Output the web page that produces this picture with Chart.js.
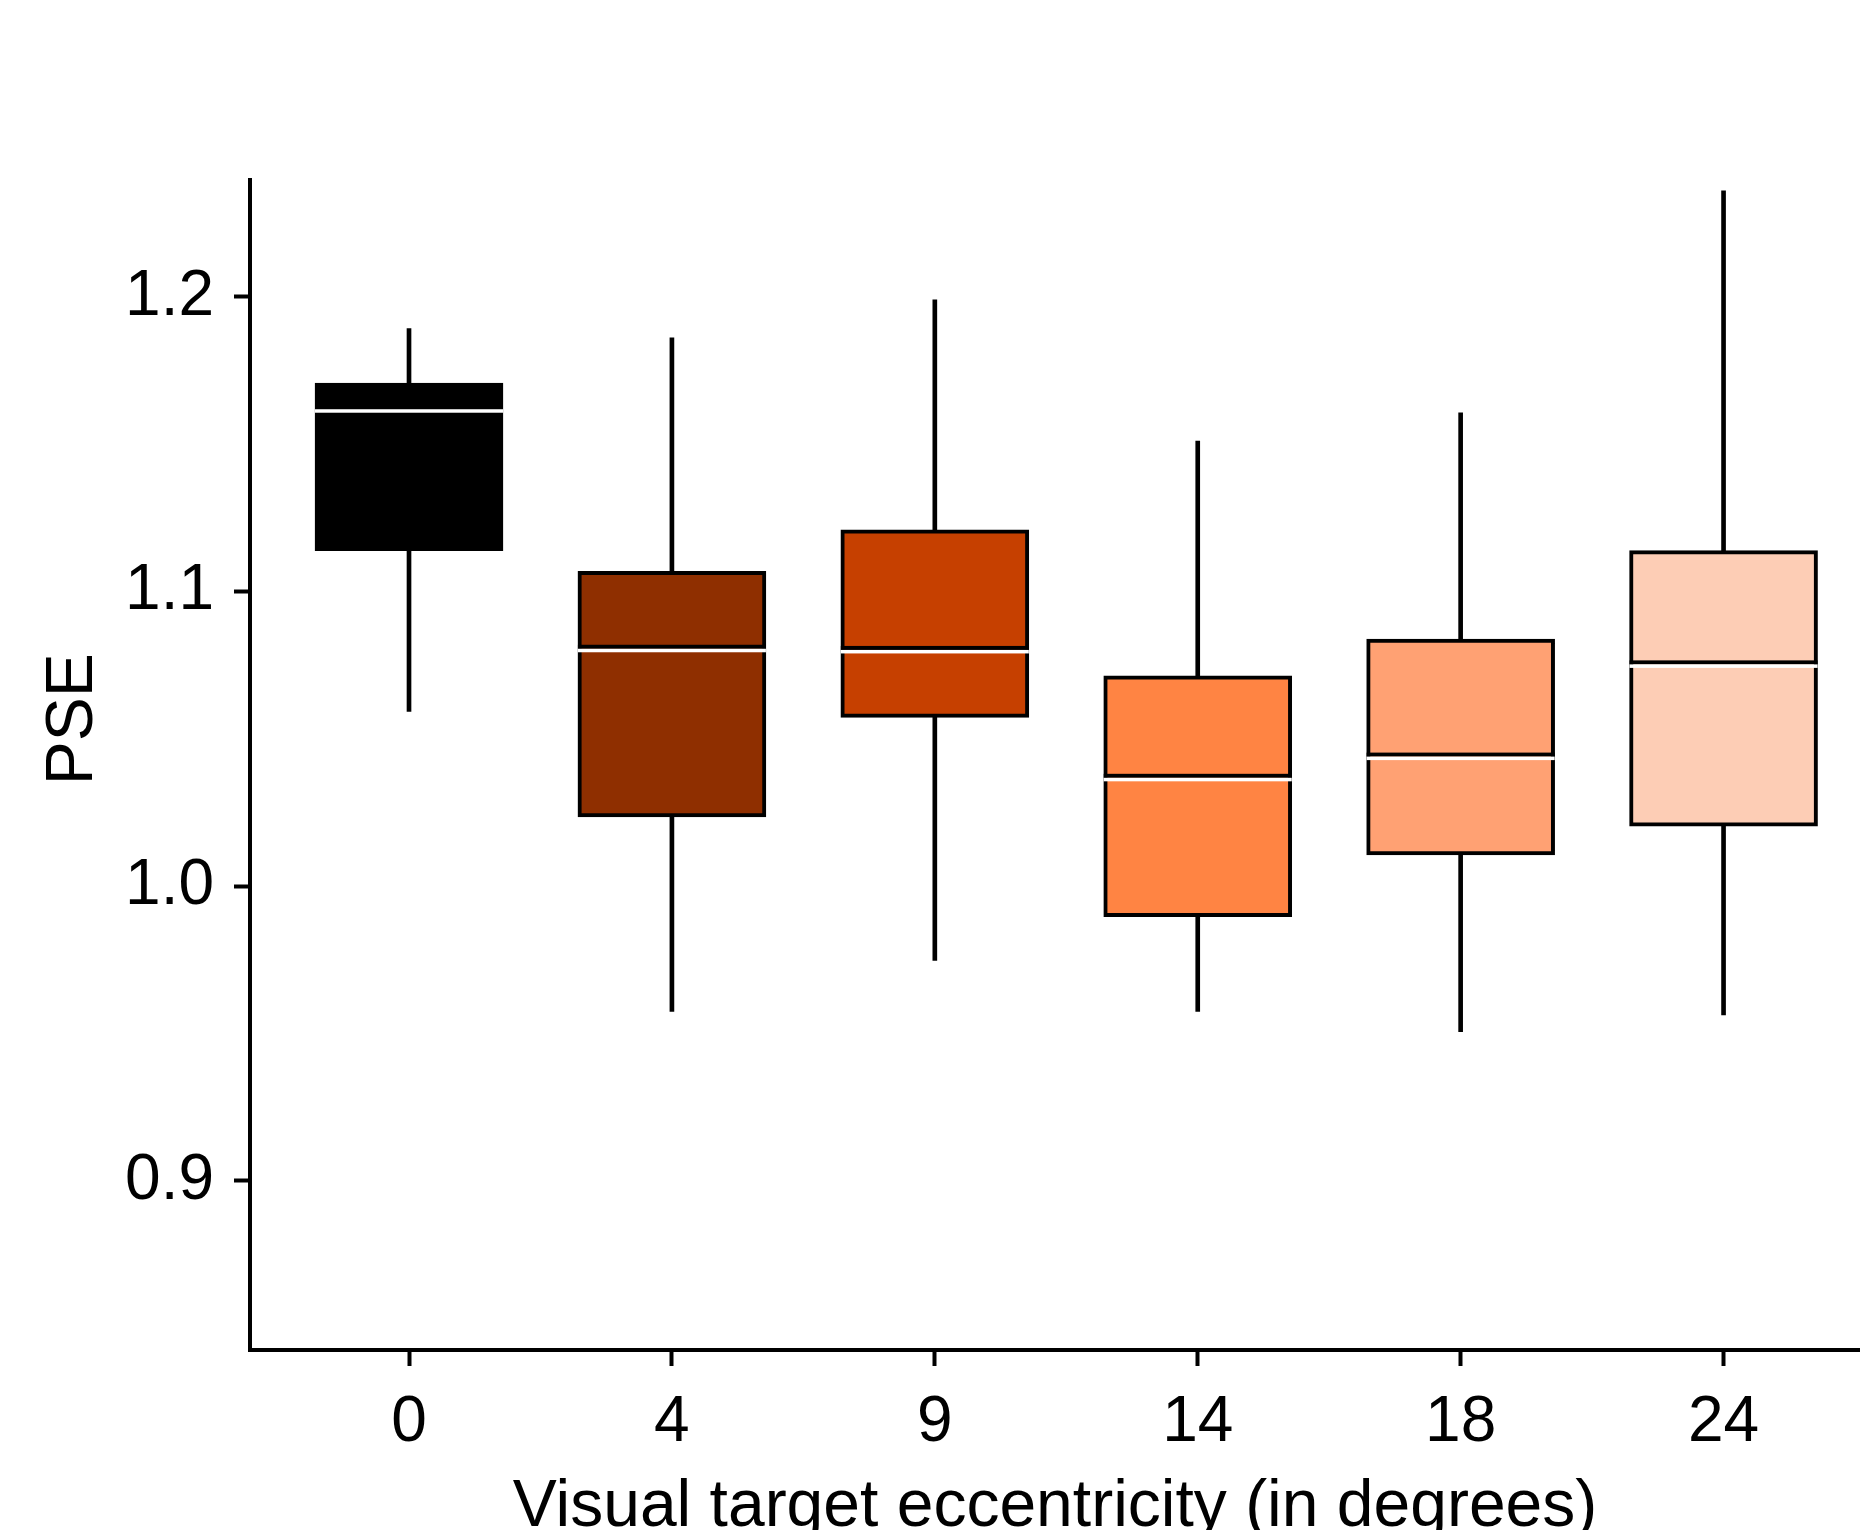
<!DOCTYPE html>
<html><head><meta charset="utf-8">
<script src="https://cdn.jsdelivr.net/npm/chart.js@4.4.1/dist/chart.umd.min.js"></script>
<style>html,body{margin:0;padding:0;background:#fff;} canvas{display:block;}</style>
</head><body>
<canvas id="c" width="1860" height="1530"></canvas>
<script>
const categories = ['0', '4', '9', '14', '18', '24'];
const whiskerLow  = [1.0593, 0.9575, 0.9748, 0.9575, 0.9506, 0.9563];
const q1          = [1.1139, 1.0235, 1.0573, 0.9897, 1.0106, 1.0204];
const medians     = [1.1619, 1.0806, 1.0802, 1.0368, 1.0440, 1.0753];
const q3          = [1.1708, 1.1069, 1.1210, 1.0714, 1.0839, 1.1139];
const whiskerHigh = [1.1893, 1.1861, 1.1990, 1.1511, 1.1607, 1.2360];
const boxColors   = ['#000000', '#8f2f00', '#c64000', '#ff8443', '#ffa173', '#fdcdb5'];
const yTicks = [0.9, 1.0, 1.1, 1.2];
const xTitle = 'Visual target eccentricity (in degrees)';
const yTitle = 'PSE';

const FONT = '"Liberation Sans", Arial, sans-serif';

const medianPlugin = {
  id: 'medians',
  afterDatasetsDraw(chart) {
    const {ctx, scales: {x, y}} = chart;
    const meta = chart.getDatasetMeta(0);
    ctx.save();
    medians.forEach((m, i) => {
      const bar = meta.data[i];
      const half = bar.width / 2;
      const cx = x.getPixelForValue(i);
      const py = y.getPixelForValue(m);
      ctx.fillStyle = '#000';
      ctx.fillRect(cx - half, py - 4, 2 * half, 4);
      ctx.fillStyle = '#fff';
      ctx.fillRect(cx - half, py, 2 * half, 3.5);
    });
    ctx.restore();
  }
};

new Chart(document.getElementById('c'), {
  type: 'bar',
  data: {
    datasets: [
      {
        label: 'box',
        data: categories.map((c, i) => ({x: i, y: [q1[i], q3[i]]})),
        backgroundColor: boxColors,
        borderColor: '#000',
        borderWidth: 4,
        borderSkipped: false,
        barThickness: 188,
        grouped: false,
        order: 1
      },
      {
        label: 'whisker',
        data: categories.map((c, i) => ({x: i, y: [whiskerLow[i], whiskerHigh[i]]})),
        backgroundColor: '#000',
        borderWidth: 0,
        barThickness: 4,
        grouped: false,
        order: 2
      }
    ]
  },
  options: {
    responsive: false,
    animation: false,
    devicePixelRatio: 1,
    layout: {padding: {top: 180, left: 0, right: 0, bottom: 0}},
    plugins: {legend: {display: false}, tooltip: {enabled: false}},
    scales: {
      x: {
        type: 'linear',
        min: -0.6048,
        max: 5.519,
        offset: false,
        afterBuildTicks: ax => { ax.ticks = categories.map((c, i) => ({value: i})); },
        afterFit: s => { s.height = 180; },
        ticks: {
          callback: v => categories[v],
          font: {family: FONT, size: 64},
          color: '#000',
          padding: 19,
          maxRotation: 0,
          autoSkip: false
        },
        grid: {display: true, drawOnChartArea: false, drawTicks: true, tickLength: 16, tickWidth: 4, tickColor: '#000', offset: false},
        border: {display: true, color: '#000', width: 4},
        title: {display: true, text: xTitle, font: {family: FONT, size: 66, lineHeight: 0.68}, color: '#000', padding: 0}
      },
      y: {
        min: 0.8426,
        max: 1.2397,
        beginAtZero: false,
        afterBuildTicks: ax => { ax.ticks = yTicks.map(v => ({value: v})); },
        afterFit: s => { s.width = 250; },
        ticks: {
          callback: v => Number(v).toFixed(1),
          font: {family: FONT, size: 64},
          color: '#000',
          padding: 20
        },
        grid: {display: true, drawOnChartArea: false, drawTicks: true, tickLength: 16, tickWidth: 4, tickColor: '#000'},
        border: {display: true, color: '#000', width: 4},
        title: {display: true, text: '     ' + yTitle, font: {family: FONT, size: 66}, color: '#000', padding: {top: 34, bottom: 0}}
      }
    }
  },
  plugins: [medianPlugin]
});
</script>
</body></html>
